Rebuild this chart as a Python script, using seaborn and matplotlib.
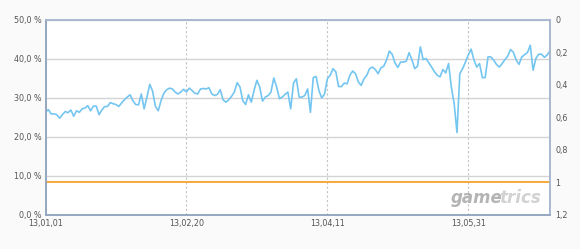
import numpy as np
import pandas as pd
import matplotlib
matplotlib.use("Agg")
import matplotlib.pyplot as plt
import matplotlib.dates as mdates
from matplotlib.ticker import FuncFormatter, FixedLocator
import seaborn as sns

# ---- data ----
start_date = "2013-01-01"
share_pct = [
    26.2, 26.9, 25.8, 25.8, 25.6, 24.7, 25.6, 26.4, 26.1, 26.8,
    25.2, 26.6, 26.2, 27.1, 27.3, 27.9, 26.6, 27.8, 27.8, 25.6,
    26.8, 27.7, 27.7, 28.7, 28.4, 28.2, 27.7, 28.6, 29.4, 30.1,
    30.7, 29.2, 28.2, 28.1, 30.9, 27.1, 30.1, 33.4, 31.6, 27.7,
    26.6, 29.2, 31.1, 32.0, 32.4, 32.2, 31.4, 30.9, 31.4, 32.1,
    31.4, 32.4, 31.8, 31.1, 30.9, 32.2, 32.3, 32.2, 32.5, 30.9,
    30.5, 30.8, 32.0, 29.4, 28.8, 29.4, 30.3, 31.4, 33.8, 32.7,
    29.2, 28.2, 30.7, 28.8, 31.8, 34.4, 32.7, 29.1, 30.1, 30.5,
    31.4, 35.0, 32.7, 29.7, 30.1, 30.8, 31.4, 27.1, 33.7, 34.8,
    30.1, 30.1, 30.5, 32.2, 26.2, 35.1, 35.4, 31.8, 29.9, 30.9,
    34.8, 35.7, 37.4, 36.6, 32.8, 32.8, 33.7, 33.5, 35.7, 36.8,
    36.1, 34.0, 33.1, 34.8, 35.7, 37.4, 37.8, 37.2, 36.1, 37.6,
    38.0, 39.6, 41.9, 41.1, 38.9, 37.7, 39.1, 39.1, 39.3, 41.5,
    39.7, 37.4, 38.0, 43.0, 39.7, 40.0, 38.9, 37.8, 36.6, 35.7,
    35.3, 37.2, 36.3, 38.7, 32.7, 28.4, 21.0, 36.1, 37.4, 39.1,
    40.9, 42.4, 39.7, 37.8, 38.7, 35.1, 35.1, 40.4, 40.4, 39.6,
    38.5, 37.8, 38.7, 39.7, 40.6, 42.3, 41.6, 39.6, 38.5, 40.4,
    41.0, 41.5, 43.4, 37.0, 40.0, 41.1, 41.1, 40.3, 40.9, 42.0,
]
rank_dates = ["2013-01-01", "2013-06-29"]
rank_values = [1.0, 1.0]
x_tick_dates = ["2013-01-01", "2013-02-20", "2013-04-11", "2013-05-31"]
left_ticks = [0, 10, 20, 30, 40, 50]
right_ticks = [0, 0.2, 0.4, 0.6, 0.8, 1.0, 1.2]

dates = pd.date_range(start_date, periods=len(share_pct), freq="D")
df = pd.DataFrame({"date": dates, "share": share_pct})
df_rank = pd.DataFrame({"date": pd.to_datetime(rank_dates), "rank": rank_values})

sns.set_theme(style="white")
plt.rcParams["font.family"] = ["DejaVu Sans"]

W, H = 580, 249
fig = plt.figure(figsize=(W / 100, H / 100), dpi=100, facecolor="#fafafa")
ax = fig.add_axes([45.5 / W, 34.5 / H, 504.5 / W, 195 / H])
ax.set_facecolor("white")

sns.lineplot(data=df, x="date", y="share", ax=ax, color="#74c6f1", lw=1.2)
ax.set_ylim(0, 50)
ax.set_xlim(dates[0], dates[-1])
ax.set_xlabel("")
ax.set_ylabel("")

ax.yaxis.set_major_locator(FixedLocator(left_ticks))
ax.yaxis.set_major_formatter(FuncFormatter(lambda v, p: f"{v:.1f} %".replace(".", ",")))
ax.xaxis.set_major_locator(FixedLocator(mdates.date2num(pd.to_datetime(x_tick_dates))))
ax.xaxis.set_major_formatter(mdates.DateFormatter("%y,%m,%d"))

ax.grid(axis="y", color="#d4d4d4", lw=1.0)
ax.grid(axis="x", color="#c4c4c4", lw=0.8, ls=(0, (2, 2)))
ax.set_axisbelow(True)
ax.tick_params(axis="both", length=0, labelsize=5.8, labelcolor="#555555", pad=3)

ax2 = ax.twinx()
sns.lineplot(data=df_rank, x="date", y="rank", ax=ax2, color="#f7a83a", lw=1.4)
ax2.set_ylim(1.2, 0)
ax2.set_ylabel("")
ax2.yaxis.set_major_locator(FixedLocator(right_ticks))
ax2.yaxis.set_major_formatter(FuncFormatter(lambda v, p: f"{v:g}".replace(".", ",")))
ax2.tick_params(axis="y", length=0, labelsize=5.8, labelcolor="#555555", pad=4)

for a in (ax, ax2):
    for s in a.spines.values():
        s.set_color("#a9b8cf")
        s.set_linewidth(1.2)
    a.spines["left"].set_color("#95a6c0")
    a.spines["bottom"].set_color("#95a6c0")

fig.text(451 / W, 1 - 198 / H, "game", fontsize=12, fontweight="bold", style="italic",
         color="#b4b4b4", va="center", ha="left")
fig.text(499 / W, 1 - 198 / H, "trics", fontsize=12, fontweight="bold", style="italic",
         color="#d2d2d2", va="center", ha="left")

fig.savefig("out.png", dpi=100, facecolor=fig.get_facecolor())
